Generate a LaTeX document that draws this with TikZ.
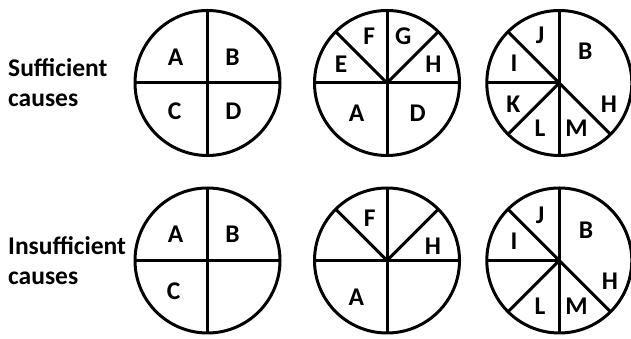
\documentclass[tikz,border=0pt]{standalone}
\usepackage{fontspec}
\setmainfont{Carlito}
\usetikzlibrary{positioning, calc}

\begin{document}
\begin{tikzpicture}[x=1pt, y=1pt,
    wheel/.style={line width=3pt},
    letter/.style={font=\bfseries\fontsize{25.5}{30}\selectfont, inner sep=0pt},
    rowname/.style={font=\bfseries\fontsize{25.5}{30}\selectfont, align=left,
                    anchor=west, inner sep=0pt}]
  \useasboundingbox (0,0) rectangle (631,339);

  % row titles
  \node[rowname] (suff) at (8,256) {Sufficient\\causes};
  \node[rowname] (insuff) at (8,78.5) {Insufficient\\causes};

  % centres of the six pies
  \coordinate (s1) at (207.5,256);
  \coordinate (s2) at (387,256);
  \coordinate (s3) at (559.3,256);
  \coordinate (i1) at (207.5,78.5);
  \coordinate (i2) at (387,78.5);
  \coordinate (i3) at (559.3,78.5);

  % quartered pies
  \foreach \c in {s1,i1}{
    \draw[wheel] (\c) circle (72.5);
    \draw[wheel] (\c) +(0,72.5) -- +(0,-72.5);
    \draw[wheel] (\c) +(-72.5,0) -- +(72.5,0);
  }
  % six slices
  \foreach \c in {s2,i2}{
    \draw[wheel] (\c) circle (72.5);
    \draw[wheel] (\c) +(0,72.5) -- +(0,-72.5);
    \draw[wheel] (\c) +(-72.5,0) -- +(72.5,0);
    \draw[wheel] (\c) -- +(135:72.5);
    \draw[wheel] (\c) -- +(45:72.5);
  }
  % seven slices
  \foreach \c in {s3,i3}{
    \draw[wheel] (\c) circle (72.5);
    \draw[wheel] (\c) +(0,72.5) -- +(0,-72.5);
    \draw[wheel] (\c) -- +(180:72.5);
    \draw[wheel] (\c) +(135:72.5) -- +(315:72.5);
    \draw[wheel] (\c) -- +(225:72.5);
  }

  % sufficient row
  \node[letter] (s1a) at ($(s1)+(-32,26)$) {A};
  \node[letter] (s1b) at ($(s1)+(25,26)$) {B};
  \node[letter] (s1c) at ($(s1)+(-33,-28)$) {C};
  \node[letter] (s1d) at ($(s1)+(26,-28)$) {D};

  \node[letter] (s2f) at ($(s2)+(-17.7,46.3)$) {F};
  \node[letter] (s2g) at ($(s2)+(16.3,46.3)$) {G};
  \node[letter] (s2e) at ($(s2)+(-46,19)$) {E};
  \node[letter] (s2h) at ($(s2)+(46.3,19)$) {H};
  \node[letter] (s2a) at ($(s2)+(-30.3,-30.3)$) {A};
  \node[letter] (s2d) at ($(s2)+(30.7,-30.3)$) {D};

  \node[letter] (s3j) at ($(s3)+(-19.3,48)$) {J};
  \node[letter] (s3b) at ($(s3)+(26,31.3)$) {B};
  \node[letter] (s3i) at ($(s3)+(-45.3,19.7)$) {I};
  \node[letter] (s3k) at ($(s3)+(-46,-21.3)$) {K};
  \node[letter] (s3h) at ($(s3)+(49.7,-21.3)$) {H};
  \node[letter] (s3l) at ($(s3)+(-19.3,-45.3)$) {L};
  \node[letter] (s3m) at ($(s3)+(17.3,-45.3)$) {M};

  % insufficient row
  \node[letter] (i1a) at ($(i1)+(-32,26)$) {A};
  \node[letter] (i1b) at ($(i1)+(25,26)$) {B};
  \node[letter] (i1c) at ($(i1)+(-34,-31)$) {C};

  \node[letter] (i2f) at ($(i2)+(-17.4,42)$) {F};
  \node[letter] (i2h) at ($(i2)+(46,14)$) {H};
  \node[letter] (i2a) at ($(i2)+(-30.7,-36.7)$) {A};

  \node[letter] (i3j) at ($(i3)+(-19.3,45.5)$) {J};
  \node[letter] (i3b) at ($(i3)+(26.7,30.5)$) {B};
  \node[letter] (i3i) at ($(i3)+(-45.3,18.8)$) {I};
  \node[letter] (i3h) at ($(i3)+(50.7,-21.2)$) {H};
  \node[letter] (i3l) at ($(i3)+(-19.3,-46.2)$) {L};
  \node[letter] (i3m) at ($(i3)+(17.3,-46.2)$) {M};
\end{tikzpicture}
\end{document}
